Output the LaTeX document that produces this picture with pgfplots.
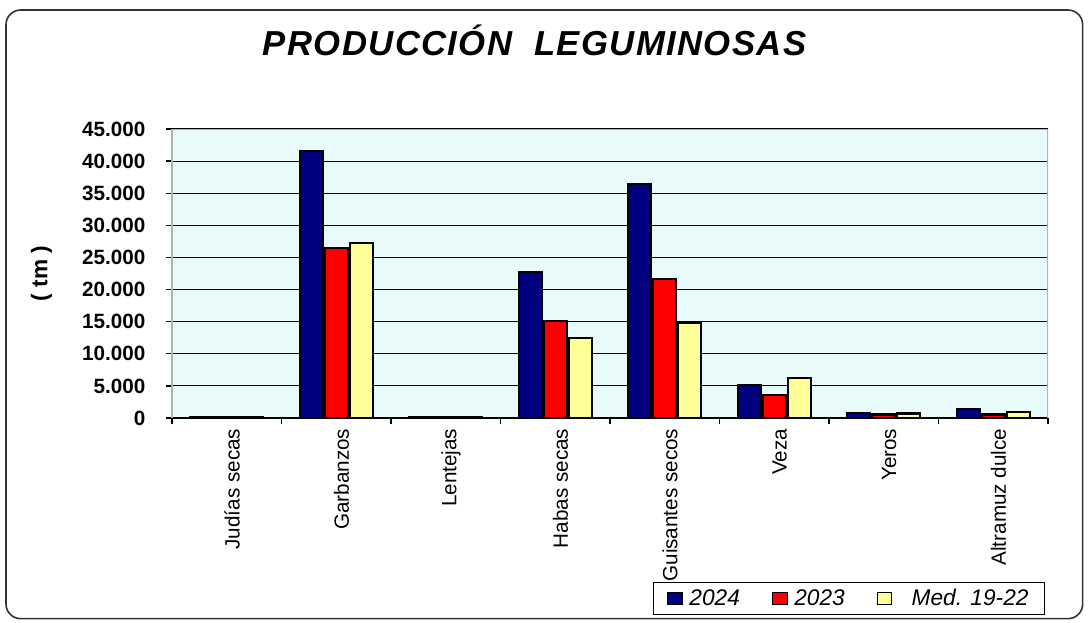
\documentclass[border=0pt]{standalone}
\usepackage{fontspec}
\setmainfont{Liberation Sans}
\usepackage{pgfplots}
\pgfplotsset{compat=1.18}
\definecolor{bNavy}{RGB}{0,0,128}
\definecolor{bRed}{RGB}{255,0,0}
\definecolor{bYel}{RGB}{255,255,153}
\definecolor{bBg}{RGB}{232,250,250}
% 1 px of the reference = 0.75pt
\begin{document}
\begin{tikzpicture}
\path (0,0) rectangle (816pt,-466.5pt);
\draw[black!80, line width=1.2pt, rounded corners=11pt] (4.5pt,-7.5pt) rectangle (812pt,-464pt);
\begin{axis}[
  at={(129pt,-313.5pt)}, anchor=south west,
  scale only axis, width=657pt, height=216.75pt,
  ybar=1.5pt, bar width=0.21,
  xmin=-0.5, xmax=7.5,
  ymin=0, ymax=45000, ytick distance=5000,
  scaled y ticks=false,
  /pgf/number format/.cd, 1000 sep={.}, assume math mode=true, /pgfplots/.cd,
  xtick={0,...,7},
  xticklabels={Judías secas, Garbanzos, Lentejas, Habas secas, Guisantes secos, Veza, Yeros, Altramuz dulce},
  minor xtick={-0.5,0.5,...,7.5},
  xtick style={draw=none},
  minor x tick style={draw=black, line width=1pt},
  ytick style={black, line width=1pt},
  tick align=outside, major tick length=4.5pt, minor tick length=4.5pt,
  xticklabel style={rotate=90, anchor=east, font=\fontsize{15.5}{15.5}\selectfont, yshift=-4pt},
  yticklabel style={font=\bfseries\fontsize{15.5}{15.5}\selectfont, xshift=-12pt},
  axis x line*=bottom, axis y line*=left,
  x axis line style={-, black, line width=1pt},
  y axis line style={-, black!30, line width=2pt},
  axis background/.style={fill=bBg},
  ymajorgrids, grid style={black, line width=0.8pt},
  ylabel={( tm )},
  ylabel style={at={(axis description cs:-0.149,0.5)}, anchor=center, font=\bfseries\fontsize{17}{17}\selectfont},
  title={\addfontfeature{LetterSpace=4}PRODUCCIÓN\ \ LEGUMINOSAS},
  title style={at={(axis description cs:0.414,1.28)}, anchor=center, font=\bfseries\itshape\fontsize{26}{26}\selectfont},
  legend columns=3,
  legend style={at={(0.9966,-0.682)}, anchor=south east, draw=black, line width=0.8pt,
    font=\itshape\fontsize{17}{17}\selectfont, inner xsep=10pt, inner ysep=3pt,
    /tikz/every odd column/.append style={column sep=3pt},
    /tikz/every even column/.append style={column sep=22pt}},
  legend image code/.code={\draw[#1, line width=0.8pt] (0pt,-4.5pt) rectangle (11pt,4.5pt);},
]
\addplot[fill=bNavy, draw=black, line width=1.6pt] coordinates {
  (0,150) (1,41600) (2,120) (3,22700) (4,36400) (5,5100) (6,750) (7,1400)};
\addplot[fill=bRed, draw=black, line width=1.6pt] coordinates {
  (0,120) (1,26500) (2,130) (3,15100) (4,21600) (5,3600) (6,550) (7,550)};
\addplot[fill=bYel, draw=black, line width=1.6pt] coordinates {
  (0,200) (1,27300) (2,150) (3,12500) (4,14800) (5,6200) (6,700) (7,1000)};
\legend{2024, 2023, {\ \ Med. 19-22}}
\draw[black!30, line width=2pt] (rel axis cs:0,1) -- (rel axis cs:1,1) -- (rel axis cs:1,0);
\end{axis}
\end{tikzpicture}
\end{document}
